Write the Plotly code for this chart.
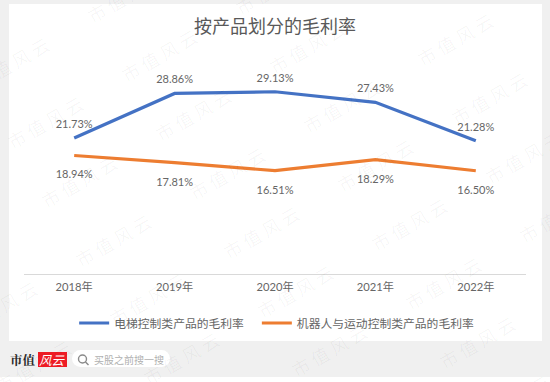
import plotly.graph_objects as go

W, H = 550, 382
years = ["2018年", "2019年", "2020年", "2021年", "2022年"]
elevator = [21.73, 28.86, 29.13, 27.43, 21.28]
robot = [18.94, 17.81, 16.51, 18.29, 16.50]
name_elevator = "电梯控制类产品的毛利率"
name_robot = "机器人与运动控制类产品的毛利率"
title = "按产品划分的毛利率"
FONT = "Lato, 'Noto Sans CJK SC', sans-serif"
CJK = "'Noto Sans CJK SC', sans-serif"
GREY = "#666666"


def px(x):
    return x / W


def py(y):
    return 1 - y / H


def fmt(vals):
    return [f"{v:.2f}%" for v in vals]


def box(kind, x0, x1, y0, y1, fill):
    return dict(type=kind, xref="paper", yref="paper", x0=px(x0), x1=px(x1), y0=py(y1), y1=py(y0),
                fillcolor=fill, line_width=0, layer="below")


fig = go.Figure()
fig.add_trace(go.Scatter(
    x=years, y=elevator, name=name_elevator + "\u00a0\u00a0\u00a0", mode="lines+markers+text",
    line=dict(color="#4472C4", width=3.2), text=fmt(elevator),
    marker=dict(size=10, color="rgba(0,0,0,0)"),
    textposition="top center", textfont=dict(size=11, color=GREY, family=FONT),
))
fig.add_trace(go.Scatter(
    x=years, y=robot, name=name_robot, mode="lines+markers+text",
    line=dict(color="#ED7D31", width=3.2), text=fmt(robot),
    marker=dict(size=22, color="rgba(0,0,0,0)"),
    textposition="bottom center", textfont=dict(size=11, color=GREY, family=FONT),
))

shapes = [
    box("rect", 9, 542, 4, 341, "white"),
    box("rect", 0, 550, 377, 382, "white"),
    box("rect", 80.5, 161.5, 350, 367, "white"),
    box("circle", 72, 89, 350, 367, "white"),
    box("circle", 153, 170, 350, 367, "white"),
    box("rect", 38, 67, 352, 367, "#EE1C25"),
    dict(type="circle", xref="paper", yref="paper", x0=px(78.5), x1=px(86.5), y0=py(363), y1=py(355),
         fillcolor="rgba(0,0,0,0)", line=dict(color="#8a8a8a", width=1.4)),
    dict(type="line", xref="paper", yref="paper", x0=px(85.5), x1=px(88.5), y0=py(362), y1=py(365),
         line=dict(color="#8a8a8a", width=1.4)),
]

annotations = []
# tiled watermark
for i in range(-3, 8):
    for j in range(-1, 5):
        cx = 45 + 34 * i + 148 * j
        cy = 122 + 59 * i - 8 * j
        if -30 < cx < W + 30 and -20 < cy < H + 20:
            annotations.append(dict(
                text="市 值 风 云", x=px(cx), y=py(cy), xref="paper", yref="paper",
                showarrow=False, textangle=-30, xanchor="center", yanchor="middle",
                font=dict(size=18, color="rgba(0,0,0,0.04)", family=CJK),
            ))

annotations += [
    dict(text="<b>市值</b>", x=px(23), y=py(360), xref="paper", yref="paper", showarrow=False,
         xanchor="center", yanchor="middle",
         font=dict(size=12.5, color="#2a2a2a", family="'Noto Serif CJK SC', 'Noto Sans CJK SC', serif")),
    dict(text="<i>风云</i>", x=px(52.5), y=py(359.5), xref="paper", yref="paper", showarrow=False,
         xanchor="center", yanchor="middle",
         font=dict(size=12.5, color="white", family=CJK)),
    dict(text="买股之前搜一搜", x=px(92), y=py(359.5), xref="paper", yref="paper", showarrow=False,
         xanchor="left", yanchor="middle", font=dict(size=10, color="#b0b0b0", family=CJK)),
]

fig.update_layout(
    width=W, height=H, margin=dict(l=0, r=0, t=0, b=0),
    paper_bgcolor="#F0F0F0", plot_bgcolor="rgba(0,0,0,0)",
    title=dict(text=title, x=0.5, xanchor="center", y=py(27), yanchor="middle",
               font=dict(size=18, color="#595959", family=CJK)),
    xaxis=dict(domain=[px(24), px(526)], range=[-0.5, 4.5], showgrid=False, zeroline=False,
               showline=False, ticks="", ticklabelstandoff=5,
               tickfont=dict(size=11.2, color=GREY, family=FONT)),
    yaxis=dict(domain=[py(274), py(55)], range=[0, 35], showgrid=False, showticklabels=False,
               zeroline=True, zerolinecolor="#D9D9D9", zerolinewidth=1.2, showline=False),
    legend=dict(orientation="h", x=0.503, xanchor="center", y=py(323), yanchor="middle",
                bgcolor="rgba(0,0,0,0)", font=dict(size=11.8, color=GREY, family=CJK),
                itemwidth=30),
    shapes=shapes, annotations=annotations,
)

fig.write_html("out.html", config={"displayModeBar": False},
               post_script="document.body.style.margin='0';")
